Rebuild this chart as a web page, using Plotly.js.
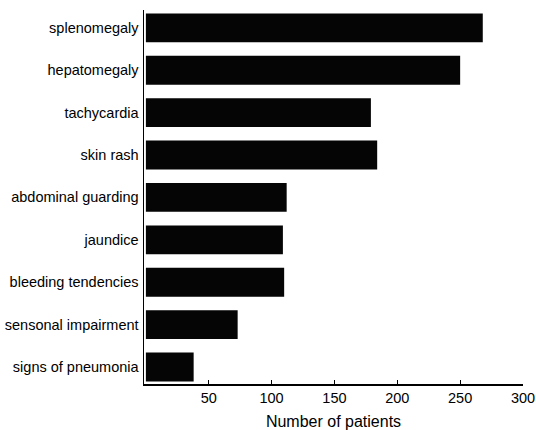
<!DOCTYPE html>
<html>
<head>
<meta charset="utf-8">
<script src="https://cdn.plot.ly/plotly-3.0.1.min.js"></script>
<style>html,body{margin:0;padding:0;background:#fff;}#chart{width:536px;height:430px;}</style>
</head>
<body>
<div id="chart"></div>
<script>
const categories = ["splenomegaly","hepatomegaly","tachycardia","skin rash","abdominal guarding","jaundice","bleeding tendencies","sensonal impairment","signs of pneumonia"];
const patients = [268, 250, 179, 184, 112, 109, 110, 73, 38];
const xTicks = [50, 100, 150, 200, 250, 300];

const trace = {
  type: 'bar',
  orientation: 'h',
  y: categories,
  x: patients,
  width: 0.68,
  marker: {color: '#050505', line: {width: 0}},
  hoverinfo: 'x+y'
};

const layout = {
  width: 536, height: 430,
  margin: {l: 144, r: 13, t: 10, b: 46},
  paper_bgcolor: '#fff', plot_bgcolor: '#fff',
  showlegend: false,
  font: {family: 'Liberation Sans, Arial, sans-serif', color: '#000'},
  xaxis: {
    range: [-1.5, 300],
    tickvals: xTicks,
    ticktext: xTicks.map(String),
    ticks: 'inside', ticklen: 4, tickcolor: '#000', tickwidth: 1,
    showline: true, linecolor: '#000', linewidth: 1.5,
    showgrid: false, zeroline: false,
    tickfont: {size: 14.5, color: '#000'},
    title: {text: 'Number of patients', font: {size: 16, color: '#000'}, standoff: 11}
  },
  yaxis: {
    type: 'category',
    range: [8.4, -0.42],
    showline: true, linecolor: '#000', linewidth: 1.5,
    showgrid: false, zeroline: false,
    ticks: '',
    ticklabelstandoff: 1,
    tickfont: {size: 14.5, color: '#000'}
  }
};

Plotly.newPlot('chart', [trace], layout, {displayModeBar: false, staticPlot: true});
</script>
</body>
</html>
